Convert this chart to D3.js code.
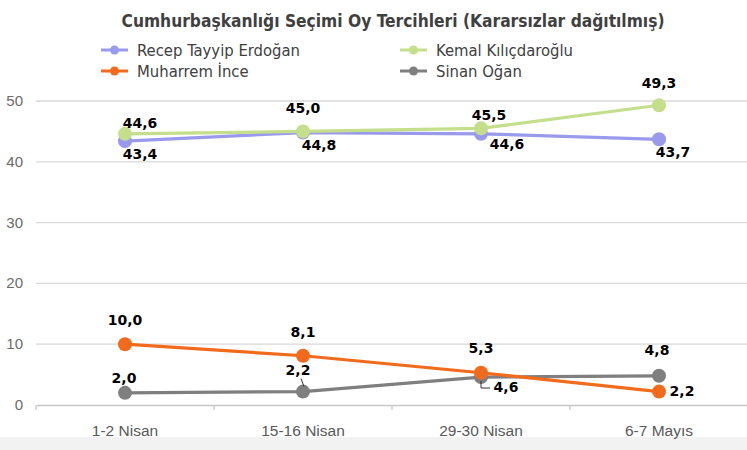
<!DOCTYPE html>
<html><head><meta charset="utf-8">
<script src="https://cdn.jsdelivr.net/npm/d3@7"></script>
<style>body{margin:0;background:#fff}svg{display:block}</style>
</head><body>
<svg id="c" width="747" height="450"></svg>
<script>
const categories = ["1-2 Nisan", "15-16 Nisan", "29-30 Nisan", "6-7 Mayıs"];
const erdogan = [43.4, 44.8, 44.6, 43.7];
const kilicdaroglu = [44.6, 45.0, 45.5, 49.3];
const ince = [10.0, 8.1, 5.3, 2.2];
const ogan = [2.0, 2.2, 4.6, 4.8];
const yTicks = [0, 10, 20, 30, 40, 50];
const title = "Cumhurbaşkanlığı Seçimi Oy Tercihleri (Kararsızlar dağıtılmış)";

const series = [
  {name: "Recep Tayyip Erdoğan", values: erdogan, color: "#9a9aec",
   lbl: [[15,18],[16,17],[26,15],[14,18]]},
  {name: "Kemal Kılıçdaroğlu", values: kilicdaroglu, color: "#c5de8b",
   lbl: [[15,-6],[0,-18],[8,-8],[0,-17]]},
  {name: "Sinan Oğan", values: ogan, color: "#7f7f7f",
   lbl: [[-1,-10],[-5,-17],[25,15],[-2,-21]]},
  {name: "Muharrem İnce", values: ince, color: "#f26b1d",
   lbl: [[0,-19],[0,-19],[0,-20],[23,4]]}
];

const svg = d3.select("#c");
svg.append("rect").attr("x",0).attr("y",437).attr("width",747).attr("height",13).attr("fill","#f2f2f2");

const x = d3.scaleBand().domain(categories).range([36, 748]);
const y = d3.scaleLinear().domain([0, 50]).range([405, 101]);
const cx = d => x(d) + x.bandwidth()/2;

// gridlines
svg.append("g").selectAll("line").data(yTicks.filter(t=>t>0)).join("line")
  .attr("x1",36).attr("x2",747).attr("y1",d=>y(d)).attr("y2",d=>y(d))
  .attr("stroke","#d9d9d9").attr("stroke-width",1.3);

// y axis labels
svg.append("g").selectAll("text").data(yTicks).join("text")
  .attr("x",23).attr("y",d=>y(d)+5).attr("text-anchor","end")
  .attr("font-family","Liberation Sans, Arial, sans-serif").attr("font-size",15)
  .attr("fill","#6b6b6b").text(d=>d);

// x axis
const xAxis = d3.axisBottom(x).tickSize(0).tickPadding(0);
const gx = svg.append("g").attr("transform","translate(0,405)").call(xAxis);
gx.select(".domain").attr("stroke","#c8c8c8").attr("stroke-width",1.3);
gx.selectAll("text").attr("y",20).attr("font-family","Liberation Sans, Arial, sans-serif")
  .attr("font-size",15.5).attr("fill","#595959");
svg.append("g").selectAll("line").data(categories).join("line")
  .attr("x1",d=>x(d)).attr("x2",d=>x(d)).attr("y1",405).attr("y2",410)
  .attr("stroke","#c8c8c8").attr("stroke-width",1.3);

// title
svg.append("text").attr("x",393).attr("y",27).attr("text-anchor","middle")
  .attr("font-family","Liberation Sans Narrow, Arial Narrow, DejaVu Sans Condensed, sans-serif")
  .attr("font-stretch","condensed").attr("font-weight","bold").attr("font-size",18.5)
  .attr("fill","#404040").attr("textLength",543).attr("lengthAdjust","spacingAndGlyphs").text(title);

// legend
const legendPos = [[101,50],[400,50],[400,71],[101,71]];
series.forEach((s,i)=>{
  const [lx,ly] = legendPos[i];
  const g = svg.append("g");
  g.append("line").attr("x1",lx).attr("x2",lx+27).attr("y1",ly).attr("y2",ly)
    .attr("stroke",s.color).attr("stroke-width",3);
  g.append("circle").attr("cx",lx+13.5).attr("cy",ly).attr("r",4.5).attr("fill",s.color);
  g.append("text").attr("x",lx+36).attr("y",ly+5.5)
    .attr("font-family","Liberation Sans Narrow, Arial Narrow, DejaVu Sans Condensed, sans-serif")
    .attr("font-stretch","condensed").attr("font-size",16.5).attr("fill","#404040").text(s.name);
});

// lines and points
const line = d3.line().x((d,i)=>cx(categories[i])).y(d=>y(d));
series.forEach(s=>{
  svg.append("path").datum(s.values).attr("d",line).attr("fill","none")
    .attr("stroke",s.color).attr("stroke-width",3.2);
});
series.forEach(s=>{
  svg.append("g").selectAll("circle").data(s.values).join("circle")
    .attr("cx",(d,i)=>cx(categories[i])).attr("cy",d=>y(d)).attr("r",7).attr("fill",s.color);
});

// leader lines
const g2 = cx(categories[1]), g3 = cx(categories[2]);
svg.append("path").attr("d",`M${g2-2},${y(ogan[1])-13} L${g2+1},${y(ogan[1])-5}`)
  .attr("stroke","#333").attr("stroke-width",1).attr("fill","none");
svg.append("path").attr("d",`M${g3},${y(ogan[2])+4} V${y(ogan[2])+11} H${g3+9}`)
  .attr("stroke","#333").attr("stroke-width",1).attr("fill","none");

// data labels
series.forEach(s=>{
  svg.append("g").selectAll("text").data(s.values).join("text")
    .attr("x",(d,i)=>cx(categories[i])+s.lbl[i][0])
    .attr("y",(d,i)=>y(d)+s.lbl[i][1])
    .attr("text-anchor","middle")
    .attr("font-family","DejaVu Sans, sans-serif").attr("font-weight","bold")
    .attr("font-size",14).attr("fill","#000")
    .text(d=>d.toFixed(1).replace(".",","));
});
</script>
</body></html>
